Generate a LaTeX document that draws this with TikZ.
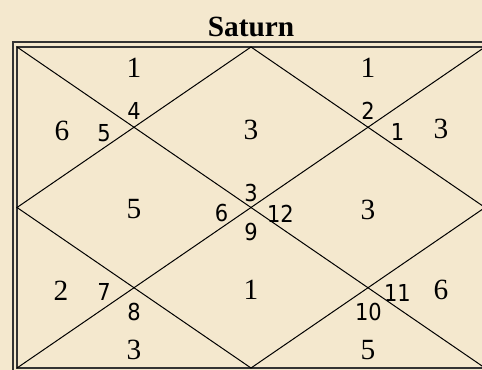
\documentclass[tikz,border=0pt]{standalone}
\usepackage{fontspec}
\setmainfont{Liberation Serif}
\newfontfamily\signfont{DejaVu Sans Condensed}
\definecolor{bgbeige}{HTML}{F4E8CE}
\definecolor{frameline}{HTML}{333333}
\begin{document}
\begin{tikzpicture}[x=0.75pt,y=-0.75pt,
  planet/.style={inner sep=0pt,anchor=center,font=\fontsize{22}{26}\selectfont},
  sign/.style={inner sep=0pt,anchor=center,font=\signfont\fontsize{17.5}{20}\selectfont},
  chartline/.style={draw=black,line width=0.75pt}]
\useasboundingbox (0,0) rectangle (482,370);
\fill[bgbeige] (0,0) rectangle (482,370);
\clip (0,0) rectangle (482,370);
% title
\node[inner sep=0pt,anchor=base,font=\fontsize{22}{26}\selectfont\bfseries] (title) at (251,37) {Saturn};
% frame
\draw[frameline,line width=1.5pt] (13,42) rectangle (489,372);
\draw[frameline,line width=1.2pt] (17,47) rectangle (485,368);
% chart corners and midpoints
\coordinate (A) at (17,47);
\coordinate (B) at (485,47);
\coordinate (C) at (485,368);
\coordinate (D) at (17,368);
\coordinate (T) at (251,47);
\coordinate (R) at (485,207.5);
\coordinate (Bm) at (251,368);
\coordinate (L) at (17,207.5);
\draw[chartline] (A) -- (C);
\draw[chartline] (B) -- (D);
\draw[chartline] (T) -- (R) -- (Bm) -- (L) -- cycle;
% sign numbers
\node[sign] (s4) at (134,111) {4};
\node[sign] (s5) at (104,133) {5};
\node[sign] (s2) at (368,111) {2};
\node[sign] (s1) at (397.5,132) {1};
\node[sign] (s3) at (251,193) {3};
\node[sign] (s6) at (221.5,213) {6};
\node[sign] (s12) at (280.5,214) {12};
\node[sign] (s9) at (251,232) {9};
\node[sign] (s7) at (104,292) {7};
\node[sign] (s8) at (134,312.5) {8};
\node[sign] (s11) at (397.5,292.5) {11};
\node[sign] (s10) at (368.5,312.5) {10};
% planet counts
\node[planet] (p1) at (134,68) {1};
\node[planet] (p2) at (368,68) {1};
\node[planet] (p3) at (62,131) {6};
\node[planet] (p4) at (251,130) {3};
\node[planet] (p5) at (441,129) {3};
\node[planet] (p6) at (134,209) {5};
\node[planet] (p7) at (368,210) {3};
\node[planet] (p8) at (61,291) {2};
\node[planet] (p9) at (251,290) {1};
\node[planet] (p10) at (441,290) {6};
\node[planet] (p11) at (134,350) {3};
\node[planet] (p12) at (368,350) {5};
\end{tikzpicture}
\end{document}
